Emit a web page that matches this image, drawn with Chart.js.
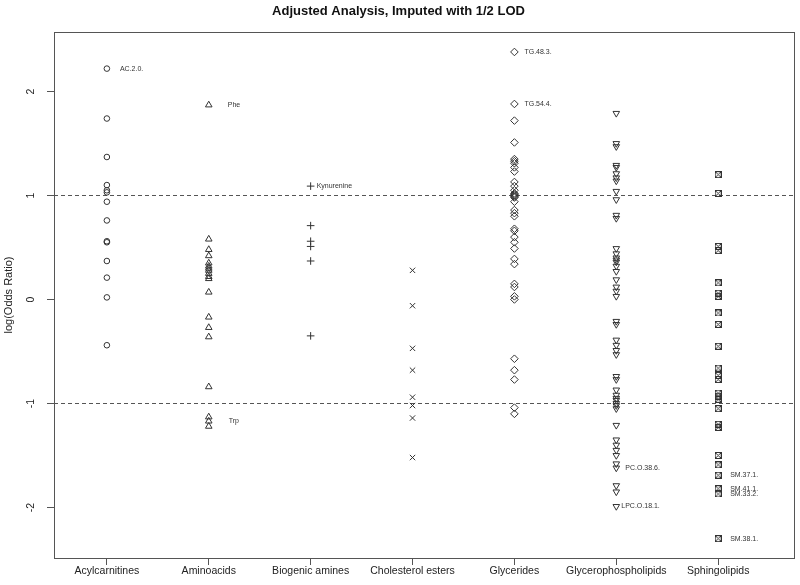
<!DOCTYPE html>
<html>
<head>
<meta charset="utf-8">
<script src="https://cdn.jsdelivr.net/npm/chart.js@4.4.1/dist/chart.umd.min.js"></script>
<style>
    body { margin: 0; background: #fff; }
    canvas { display: block; }
</style>
</head>
<body>
<canvas id="chart" width="800" height="585"></canvas>
<script>
const categories = ['Acylcarnitines', 'Aminoacids', 'Biogenic amines', 'Cholesterol esters',
    'Glycerides', 'Glycerophospholipids', 'Sphingolipids'];

const acylcarnitines = [2.22, 1.74, 1.37, 1.10, 1.05, 1.03, 0.94, 0.76, 0.56, 0.55, 0.37, 0.21, 0.02, -0.44];
const aminoacids = [1.87, 0.58, 0.48, 0.42, 0.35, 0.32, 0.30, 0.28, 0.25, 0.22, 0.20, 0.07,
    -0.17, -0.27, -0.36, -0.84, -1.13, -1.17, -1.22];
const biogenicAmines = [1.09, 0.71, 0.56, 0.51, 0.37, -0.35];
const cholesterolEsters = [0.28, -0.06, -0.47, -0.68, -0.94, -1.02, -1.14, -1.52];
const glycerides = [2.38, 1.88, 1.72, 1.51, 1.35, 1.33, 1.31, 1.27, 1.23, 1.13, 1.09, 1.05, 1.02,
    1.01, 1.00, 0.99, 0.98, 0.94, 0.86, 0.83, 0.80, 0.68, 0.66, 0.60, 0.55, 0.49, 0.39, 0.34,
    0.15, 0.12, 0.03, 0.00, -0.57, -0.68, -0.77, -1.04, -1.10];
const glycerophospholipids = [1.79, 1.50, 1.47, 1.29, 1.27, 1.21, 1.17, 1.14, 1.04, 0.96, 0.81,
    0.78, 0.49, 0.44, 0.40, 0.38, 0.36, 0.32, 0.27, 0.19, 0.12, 0.08, 0.03, -0.21, -0.24, -0.39,
    -0.44, -0.49, -0.53, -0.74, -0.77, -0.87, -0.92, -0.95, -0.97, -1.00, -1.02, -1.05, -1.21,
    -1.35, -1.40, -1.45, -1.50, -1.58, -1.62, -1.79, -1.85, -1.99];
const sphingolipids = [1.20, 1.02, 0.51, 0.47, 0.16, 0.06, 0.03, -0.13, -0.24, -0.45, -0.66,
    -0.73, -0.77, -0.90, -0.93, -0.96, -1.05, -1.20, -1.23, -1.50, -1.59, -1.69, -1.82, -1.87, -2.30];

const yTicks = [-2, -1, 0, 1, 2];
const cutoffs = [1, -1];

// labelled points: text, category index, value
const labelTexts = ['AC.2.0.', 'Phe', 'Trp', 'Kynurenine', 'TG.48.3.', 'TG.54.4.',
    'PC.O.38.6.', 'LPC.O.18.1.', 'SM.37.1.', 'SM.41.1.', 'SM.33.2.', 'SM.38.1.'];
const labelCats = [0, 1, 1, 2, 4, 4, 5, 5, 6, 6, 6, 6];
const labelValues = [2.22, 1.87, -1.17, 1.09, 2.38, 1.88, -1.62, -1.99, -1.69, -1.82, -1.87, -2.30];

const series = [acylcarnitines, aminoacids, biogenicAmines, cholesterolEsters,
    glycerides, glycerophospholipids, sphingolipids];

// pch 7 lookalike: square with an x inside
function boxedCross() {
    const c = document.createElement('canvas');
    c.width = 7;
    c.height = 7;
    const g = c.getContext('2d');
    g.strokeStyle = '#333';
    g.lineWidth = 1;
    g.strokeRect(0.5, 0.5, 6, 6);
    g.beginPath();
    g.moveTo(1, 1); g.lineTo(6, 6);
    g.moveTo(6, 1); g.lineTo(1, 6);
    g.stroke();
    return c;
}

const markers = [
    { pointStyle: 'circle', radius: 2.8, rotation: 0 },
    { pointStyle: 'triangle', radius: 3.8, rotation: 0 },
    { pointStyle: 'cross', radius: 3.8, rotation: 0 },
    { pointStyle: 'crossRot', radius: 3.8, rotation: 0 },
    { pointStyle: 'rectRot', radius: 3.8, rotation: 0 },
    { pointStyle: 'triangle', radius: 3.8, rotation: 180 },
    { pointStyle: boxedCross(), radius: 3.5, rotation: 0 }
];

const datasets = series.map((vals, i) => ({
    label: categories[i],
    data: vals.map(v => ({ x: i + 1, y: v })),
    pointStyle: markers[i].pointStyle,
    pointRadius: markers[i].radius,
    pointRotation: markers[i].rotation,
    pointBorderColor: '#333',
    pointBackgroundColor: 'rgba(0,0,0,0)',
    pointBorderWidth: 1,
    showLine: false
}));

const labelDx = { 'AC.2.0.': 13, 'Phe': 19, 'Trp': 20, 'Kynurenine': 6, 'TG.48.3.': 10,
    'TG.54.4.': 10, 'PC.O.38.6.': 9, 'LPC.O.18.1.': 5 };

const framePlugin = {
    id: 'frame',
    beforeDatasetsDraw(chart) {
        const { ctx, chartArea: a, scales: { y } } = chart;
        ctx.save();
        ctx.strokeStyle = '#555';
        ctx.lineWidth = 1;
        ctx.setLineDash([4, 3]);
        cutoffs.forEach(v => {
            const py = Math.round(y.getPixelForValue(v)) + 0.5;
            ctx.beginPath();
            ctx.moveTo(a.left, py);
            ctx.lineTo(a.right, py);
            ctx.stroke();
        });
        ctx.setLineDash([]);
        ctx.strokeRect(Math.round(a.left) + 0.5, Math.round(a.top) + 0.5,
            Math.round(a.right - a.left) - 1, Math.round(a.bottom - a.top));
        ctx.restore();
    },
    afterDatasetsDraw(chart) {
        const { ctx, scales: { x, y } } = chart;
        ctx.save();
        ctx.font = '7px "Liberation Sans", Arial, sans-serif';
        ctx.fillStyle = '#333';
        ctx.textAlign = 'left';
        ctx.textBaseline = 'middle';
        labelTexts.forEach((t, i) => {
            const dx = labelDx[t] !== undefined ? labelDx[t] : 12;
            ctx.fillText(t, x.getPixelForValue(labelCats[i] + 1) + dx, y.getPixelForValue(labelValues[i]));
        });
        ctx.restore();
    }
};

Chart.defaults.font.family = '"Liberation Sans", Arial, sans-serif';
Chart.defaults.color = '#222';

new Chart(document.getElementById('chart'), {
    type: 'scatter',
    data: { datasets: datasets },
    options: {
        responsive: false,
        animation: false,
        events: [],
        layout: { padding: { left: 0, right: 3, top: 0, bottom: 0 } },
        plugins: {
            legend: { display: false },
            tooltip: { enabled: false },
            title: {
                display: true,
                text: 'Adjusted Analysis, Imputed with 1/2 LOD',
                color: '#111',
                font: { size: 13, weight: 'bold', lineHeight: 1.2 },
                padding: { top: 4, bottom: 12.4 }
            }
        },
        scales: {
            x: {
                type: 'linear',
                min: 0.481,
                max: 7.754,
                afterBuildTicks: s => { s.ticks = categories.map((c, i) => ({ value: i + 1 })); },
                afterFit: s => { s.height = 27; },
                ticks: {
                    callback: v => categories[v - 1],
                    autoSkip: false,
                    maxRotation: 0,
                    padding: 0,
                    color: '#222',
                    font: { size: 10.5 }
                },
                grid: { drawOnChartArea: false, drawTicks: true, tickLength: 7, color: '#555' },
                border: { display: false }
            },
            y: {
                min: -2.486,
                max: 2.572,
                afterBuildTicks: s => { s.ticks = yTicks.map(v => ({ value: v })); },
                afterFit: s => { s.width = 54; },
                ticks: {
                    minRotation: 90,
                    maxRotation: 90,
                    crossAlign: 'center',
                    padding: 11,
                    color: '#222',
                    font: { size: 10.5 }
                },
                grid: { drawOnChartArea: false, drawTicks: true, tickLength: 7, color: '#555' },
                border: { display: false },
                title: {
                    display: true,
                    text: 'log(Odds Ratio)',
                    color: '#222',
                    font: { size: 11, lineHeight: 1.2 },
                    padding: { top: 2.4, bottom: 0 }
                }
            }
        }
    },
    plugins: [framePlugin]
});
</script>
</body>
</html>
